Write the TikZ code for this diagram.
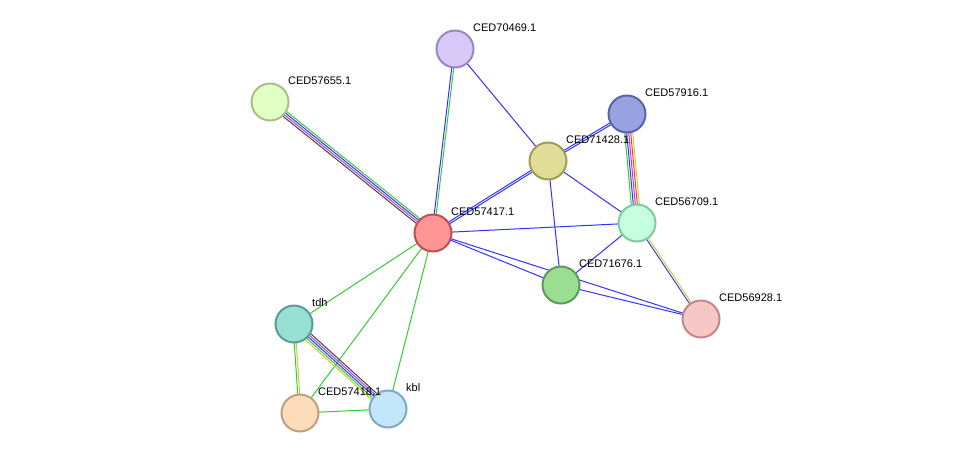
\documentclass[tikz,border=0pt]{standalone}
\usepackage{fontspec}
\setmainfont{Liberation Sans}
\usetikzlibrary{calc}
\definecolor{eg}{HTML}{33CC33}
\definecolor{eb}{HTML}{3333FF}
\definecolor{ey}{HTML}{CCCC33}
\definecolor{ek}{HTML}{444444}
\definecolor{ep}{HTML}{AA44CC}
\definecolor{er}{HTML}{FF3333}
\definecolor{fa}{HTML}{D8C8F8}\definecolor{da}{HTML}{9A85C7}
\definecolor{fb}{HTML}{E2FFC4}\definecolor{db}{HTML}{A8C08A}
\definecolor{fc}{HTML}{98A2E0}\definecolor{dc}{HTML}{5A63A8}
\definecolor{fd}{HTML}{E0DD98}\definecolor{dd}{HTML}{A09C58}
\definecolor{fe}{HTML}{FF9494}\definecolor{de}{HTML}{C05050}
\definecolor{ff}{HTML}{C4FFE0}\definecolor{df}{HTML}{80C8A0}
\definecolor{fg}{HTML}{9ADE92}\definecolor{dg}{HTML}{5C9C58}
\definecolor{fh}{HTML}{F7C6C6}\definecolor{dh}{HTML}{C08888}
\definecolor{fi}{HTML}{98E0D4}\definecolor{di}{HTML}{5A9C90}
\definecolor{fj}{HTML}{FDDCBC}\definecolor{dj}{HTML}{C0A080}
\definecolor{fk}{HTML}{C4E6FA}\definecolor{dk}{HTML}{80A8C0}
\newcommand\medge[3]{\foreach \c/\o in {#3}{\draw[\c,line width=1pt] ($(#1)!\o pt!90:(#2)$) -- ($(#2)!\o pt!-90:(#1)$);}}
\tikzset{prot/.style 2 args={circle,minimum size=37pt,inner sep=0pt,line width=2pt,fill=#1,draw=#2},
 lab/.style={anchor=west,font=\fontsize{11}{12}\selectfont,inner sep=0pt}}
\begin{document}
\begin{tikzpicture}[x=1pt,y=-1pt]
\useasboundingbox (0,0) rectangle (975,459);
\coordinate (n70469) at (455,49);
\coordinate (n57655) at (270,102);
\coordinate (n57916) at (627,114);
\coordinate (n71428) at (548,161);
\coordinate (n57417) at (433,233);
\coordinate (n56709) at (637,223);
\coordinate (n71676) at (561,285);
\coordinate (n56928) at (701,319);
\coordinate (ntdh) at (294,324);
\coordinate (n57418) at (300,413);
\coordinate (nkbl) at (388,409);
% edges
\medge{n57417}{n70469}{eg/-1,eb/1}
\medge{n57417}{n57655}{eg/-3,eb/-1,ep/1,ek/3}
\medge{n57417}{n71428}{eb/-1,eb/1}
\medge{n57417}{n56709}{eb/0}
\medge{n57417}{n71676}{eb/0}
\medge{n57417}{n56928}{eb/0}
\medge{n57417}{ntdh}{eg/0}
\medge{n57417}{n57418}{eg/0}
\medge{n57417}{nkbl}{eg/0}
\medge{n70469}{n71428}{eb/0}
\medge{n71428}{n57916}{eb/-1,eb/1}
\medge{n71428}{n56709}{eb/0}
\medge{n71428}{n71676}{eb/0}
\medge{n57916}{n56709}{eg/-4,eb/-2,ep/0,er/2,ey/4}
\medge{n56709}{n71676}{eb/0}
\medge{n56709}{n56928}{eb/-1,ey/1}
\medge{n71676}{n56928}{eb/0}
\medge{ntdh}{n57418}{eg/-1,ey/1}
\medge{ntdh}{nkbl}{ey/-4,eg/-2,eb/0,ep/2,ek/4}
\medge{n57418}{nkbl}{eg/0}
% nodes
\node[prot={fa}{da}] (a) at (n70469) {};
\node[prot={fb}{db}] (b) at (n57655) {};
\node[prot={fc}{dc}] (c) at (n57916) {};
\node[prot={fd}{dd}] (d) at (n71428) {};
\node[prot={fe}{de}] (e) at (n57417) {};
\node[prot={ff}{df}] (f) at (n56709) {};
\node[prot={fg}{dg}] (g) at (n71676) {};
\node[prot={fh}{dh}] (h) at (n56928) {};
\node[prot={fi}{di}] (i) at (ntdh) {};
\node[prot={fj}{dj}] (j) at (n57418) {};
\node[prot={fk}{dk}] (k) at (nkbl) {};
% labels
\node[lab] (la) at ($(n70469)+(18,-21)$) {CED70469.1};
\node[lab] (lb) at ($(n57655)+(18,-21)$) {CED57655.1};
\node[lab] (lc) at ($(n57916)+(18,-21)$) {CED57916.1};
\node[lab] (ld) at ($(n71428)+(18,-21)$) {CED71428.1};
\node[lab] (le) at ($(n57417)+(18,-21)$) {CED57417.1};
\node[lab] (lf) at ($(n56709)+(18,-21)$) {CED56709.1};
\node[lab] (lg) at ($(n71676)+(18,-21)$) {CED71676.1};
\node[lab] (lh) at ($(n56928)+(18,-21)$) {CED56928.1};
\node[lab] (li) at ($(ntdh)+(18,-21)$) {tdh};
\node[lab] (lj) at ($(n57418)+(18,-21)$) {CED57418.1};
\node[lab] (lk) at ($(nkbl)+(18,-21)$) {kbl};
\end{tikzpicture}
\end{document}
